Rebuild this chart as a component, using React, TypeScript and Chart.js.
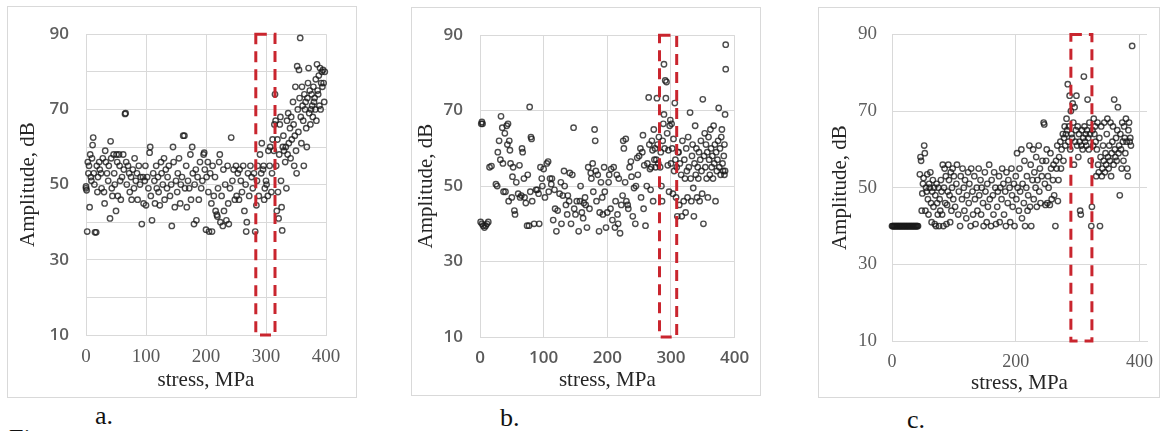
import { useEffect, useRef } from 'react';
import { Chart, registerables } from 'chart.js';

Chart.register(...registerables);

// ---------- data ----------
const yTickLabels = [10, 30, 50, 70, 90];
const yGridA = [10, 20, 30, 40, 50, 60, 70, 80, 90];
const xTicksAB = [0, 100, 200, 300, 400];
const xTicksC = [0, 200, 400];
const boxAmp = [10, 90];
const boxStressA = [283, 315];
const boxStressB = [282, 309];
const boxStressC = [289, 323];

const pointsA: [number, number][] = [
  [0, 49], [0, 49.5], [1, 48.5], [2, 37.5], [3, 56], [4, 53], [5, 55], [6, 44], [7, 58], [8, 52], [9, 51], [10, 57], [11, 60.5], [12, 62.5], [13, 53], [14, 50], [15, 37.3], [17, 37.3], [18, 55], [19, 48],
  [20, 52], [22, 56], [23, 54], [25, 53], [26, 49], [28, 57], [30, 48], [31, 45], [32, 59], [33, 56], [35, 53], [37, 51], [38, 55], [40, 41], [41, 61.5], [42, 57], [43, 49], [44, 47], [46, 58], [47, 53], [48, 50], [50, 43], [51, 58], [52, 56], [53, 47], [55, 58], [56, 55], [57, 51], [58, 46], [60, 52],
  [62, 58], [63, 54], [65, 68.8], [66, 69], [67, 56], [68, 50], [70, 55], [72, 53], [73, 48], [75, 52], [76, 46], [78, 54], [80, 49], [81, 57], [83, 51], [85, 53], [86, 46], [88, 55], [90, 50], [91, 52], [93, 39.5], [95, 52], [96, 45], [98, 51], [99, 55], [100, 44.5],
  [102, 52], [104, 49], [106, 58.5], [107, 60], [108, 47], [110, 40.5], [112, 53], [114, 51], [115, 45], [117, 55], [118, 49], [120, 52], [121, 48], [123, 44.5], [125, 56], [126, 53], [128, 50], [130, 57], [131, 46], [133, 54], [135, 49], [136, 52], [138, 55], [140, 47], [142, 50], [143, 39], [145, 60], [146, 56], [148, 44], [150, 51],
  [152, 48], [153, 53], [155, 57], [157, 45], [158, 50], [160, 52], [162, 63], [164, 63], [165, 49], [167, 55], [168, 44], [170, 51], [172, 49], [174, 58], [175, 46], [177, 60], [178, 53], [180, 39.5], [181, 50], [183, 54], [184, 40.5], [186, 52], [188, 46], [190, 56], [192, 49], [194, 51], [196, 58], [197, 58.5], [198, 54], [200, 38],
  [201, 52], [203, 56], [204, 48], [205, 37.5], [207, 53], [209, 45], [210, 37.5], [211, 55], [213, 47], [215, 52], [216, 43], [218, 42], [219, 41.5], [220, 49], [222, 56], [223, 58], [224, 40], [226, 47], [228, 39], [229, 54], [230, 43], [232, 50], [234, 40.5], [236, 55], [237, 45], [238, 39.5], [240, 49], [242, 62.5], [244, 51], [246, 54], [248, 46],
  [250, 55], [251, 47], [253, 53], [255, 46], [256, 54], [258, 51], [260, 48], [262, 55], [264, 43], [266, 50], [267, 37.5], [268, 40], [270, 53], [272, 47], [274, 55], [276, 52], [278, 49], [280, 53], [282, 37.5], [284, 44.5], [285, 51],
  [286, 55], [288, 47], [290, 58], [292, 53], [293, 61], [295, 54], [296, 55], [297, 46], [298, 49], [300, 51], [301, 50], [303, 47], [304, 59], [306, 55], [307, 60], [309, 48], [310, 53], [311, 62], [313, 59], [314, 66], [315, 74], [316, 67], [317, 55], [318, 43], [319, 62], [320, 48], [321, 41], [322, 58], [323, 66], [324, 68], [325, 51], [326, 44], [327, 37.8], [328, 60], [329, 63],
  [330, 59], [332, 56], [333, 60], [334, 49], [335, 67], [336, 58], [337, 69], [338, 61], [340, 65], [341, 57], [342, 68], [343, 62], [345, 72], [346, 66], [347, 55], [348, 63], [349, 76], [350, 59], [351, 53], [352, 81.5], [353, 70], [354, 64], [355, 80.5], [356, 73], [357, 89], [358, 68], [359, 61], [360, 76], [361, 71], [362, 67], [363, 55], [364, 74], [365, 70], [366, 72], [367, 65], [368, 60], [369, 73], [370, 77], [371, 81], [372, 69], [373, 75], [374, 66], [375, 70], [376, 74], [377, 71], [378, 68], [379, 76], [380, 72], [381, 73], [382, 70], [383, 78], [384, 67], [385, 82], [386, 75], [387, 74], [388, 79], [389, 71], [390, 81], [391, 70], [392, 77], [393, 80], [394, 76], [395, 80.5], [396, 77], [397, 72], [398, 80],
];

const pointsB: [number, number][] = [
  [2, 66.5], [3, 67], [4, 66.5], [1, 40.5], [3, 40], [5, 39.5], [7, 39], [9, 39.5], [11, 40], [13, 40.5], [15, 55], [18, 55.3], [25, 50.5], [27, 50], [28, 59], [30, 62], [32, 57], [33, 68.5], [35, 65.5], [36, 56], [37, 48.5], [39, 64], [40, 48.5], [42, 66], [43, 61], [44, 66.5], [45, 46], [46, 62], [47, 59.5], [48, 56], [50, 47], [51, 52.5], [52, 55], [54, 43.5], [55, 42.5], [57, 51], [60, 48], [62, 55.5], [63, 47], [65, 47.5], [66, 60], [67, 59], [69, 52], [70, 47], [72, 45.5], [74, 39.5], [75, 53], [77, 39.5], [78, 71], [79, 48.5], [80, 63], [81, 62.5], [82, 46], [85, 40], [88, 49], [90, 49], [92, 48], [93, 40], [95, 55], [97, 52], [98, 50], [100, 54.5],
  [102, 47], [105, 56], [107, 56.5], [108, 48.5], [110, 52], [112, 50.5], [113, 52], [115, 41], [117, 49], [118, 44], [120, 38], [122, 43.5], [125, 48], [127, 51], [128, 40], [130, 47.5], [132, 54], [133, 50], [135, 45], [137, 42.5], [138, 47.5], [140, 46], [141, 53.5], [143, 40], [145, 53], [147, 65.5], [148, 44], [150, 42.5], [152, 46], [155, 38], [157, 46], [158, 50], [160, 43], [162, 41.5], [163, 45.5], [165, 47], [166, 45], [168, 39], [170, 55], [172, 44], [174, 53.5], [175, 52], [177, 56], [178, 48.5], [180, 65], [181, 62], [182, 54], [183, 46], [185, 53], [187, 38], [188, 43], [190, 51], [192, 47], [193, 42.5], [195, 55], [196, 48.5], [198, 39], [200, 43],
  [202, 51], [203, 53], [205, 44], [206, 54.5], [208, 41], [210, 55], [212, 39], [213, 46], [215, 53], [216, 42.5], [217, 40], [218, 52], [220, 37.5], [222, 45], [224, 47.5], [225, 62], [226, 60], [228, 51], [229, 62.5], [230, 46], [232, 45], [233, 44], [235, 55], [237, 56.5], [238, 52.5], [240, 42], [242, 49.5], [244, 40], [245, 50], [247, 57.5], [248, 53], [250, 58], [252, 60], [253, 47], [255, 59], [256, 63.5], [257, 44], [258, 55.5], [260, 39.5], [262, 50], [263, 56], [265, 73.5], [266, 61], [267, 54.5], [268, 49], [269, 55], [270, 62], [271, 59.5], [272, 46],
  [273, 65], [274, 57], [275, 60], [276, 55], [277, 57], [278, 73.3], [279, 61], [280, 56], [281, 63], [283, 55], [284, 59], [285, 50], [286, 46], [287, 62], [288, 66.5], [289, 82.3], [289, 69], [290, 60], [291, 78], [292, 73.3], [293, 77.6], [294, 64], [295, 55.5], [296, 59.5], [297, 48.5], [298, 66], [299, 67.5], [300, 56], [301, 66.5], [302, 60], [303, 48], [304, 62.5], [305, 54], [306, 72], [307, 57], [308, 47], [309, 55], [310, 42], [311, 59],
  [312, 59], [313, 45], [314, 56], [316, 53], [317, 42], [318, 62], [320, 46], [321, 57], [322, 52], [323, 43], [324, 60], [325, 54], [326, 47], [327, 63], [328, 55], [330, 69.5], [331, 52], [332, 46], [333, 58], [334, 61], [335, 49.5], [336, 42], [337, 56], [338, 66], [339, 53], [340, 60], [341, 47], [342, 55], [343, 52], [344, 59], [345, 46], [346, 57], [347, 62], [348, 54], [349, 48], [350, 73], [351, 40], [352, 58], [353, 64], [354, 55], [355, 61], [356, 52], [357, 59], [358, 47], [359, 63], [360, 57], [361, 53], [362, 65], [363, 60], [364, 55], [365, 58], [366, 52], [367, 66], [368, 56], [369, 61], [370, 46], [371, 59], [372, 54], [373, 57], [374, 62], [375, 70.7], [376, 55], [377, 60], [378, 53], [379, 63], [380, 65], [381, 56], [382, 54], [383, 58], [384, 61], [385, 69], [386, 87.5], [386, 81], [385, 54], [384, 53],
];

const pointsC: [number, number][] = [
  [0, 40], [1, 40], [2, 40], [3, 40], [4, 40], [5, 40], [6, 40], [7, 40], [8, 40], [9, 40], [10, 40], [11, 40], [12, 40], [13, 40], [14, 40], [15, 40], [16, 40], [17, 40], [18, 40], [19, 40], [20, 40], [21, 40], [22, 40], [23, 40], [24, 40], [25, 40], [26, 40], [27, 40], [28, 40], [29, 40], [30, 40], [31, 40], [32, 40], [33, 40], [34, 40], [35, 40], [36, 40], [37, 40], [38, 40], [39, 40], [40, 40], [41, 40], [42, 40],
  [45, 53.5], [46, 58], [47, 57], [48, 44], [49, 48.5], [50, 51], [51, 52.5], [52, 61], [53, 59], [54, 44], [55, 50], [56, 49], [57, 53.5], [58, 47], [59, 43], [60, 51], [61, 50], [62, 54], [63, 46], [64, 41], [65, 49], [66, 52], [67, 45], [68, 50], [69, 40.5], [70, 48], [71, 40], [72, 51], [73, 46], [74, 43], [75, 50], [76, 40], [77, 47], [78, 44], [79, 52], [80, 49], [81, 43], [82, 56], [83, 40], [84, 50], [85, 55], [86, 46], [87, 53], [88, 40.5], [89, 45.5], [90, 49], [91, 56], [92, 52], [93, 48], [94, 41], [95, 54], [96, 44], [97, 50], [98, 55], [99, 47], [100, 53],
  [102, 45], [104, 51], [105, 56], [107, 43], [108, 49], [110, 40], [111, 53], [113, 47], [114, 55], [116, 50], [117, 44], [118, 52], [120, 42], [121, 48], [123, 54], [124, 46], [125, 51], [127, 40], [128, 55], [130, 49], [131, 43], [133, 53], [134, 47], [135, 40.5], [137, 50], [138, 44], [140, 55], [141, 48], [143, 52], [144, 43], [145, 50], [147, 46], [148, 40], [150, 54], [151, 49], [153, 41], [154, 51], [155, 45], [157, 56], [158, 47], [160, 40], [161, 52], [163, 48], [164, 43], [165, 54], [167, 50], [168, 40.5], [170, 45], [171, 49], [173, 53], [174, 41], [175, 50], [177, 47], [178, 55], [180, 51], [181, 43], [183, 49], [184, 40], [185, 54], [187, 46], [188, 52], [190, 50], [191, 41], [193, 55], [194, 48], [195, 45], [197, 51], [198, 40], [200, 53],
  [201, 47], [202, 59], [203, 50], [205, 44], [206, 55], [207, 49], [209, 60], [210, 42], [211, 51], [213, 46], [214, 57], [215, 40], [217, 50], [218, 53], [219, 44], [220, 48], [222, 61], [223, 45], [224, 56], [225, 40], [227, 52], [228, 60], [229, 47], [230, 54], [232, 50], [233, 58], [234, 45], [235, 52], [237, 61], [238, 49], [239, 55], [240, 46], [242, 53], [243, 57], [245, 67], [246, 66.5], [247, 51], [248, 45.5], [249, 57], [250, 60], [251, 46], [252, 53], [253, 50], [255, 45.5], [256, 59], [257, 55], [258, 47], [260, 52], [261, 56], [262, 48], [264, 40], [265, 57], [266, 55], [267, 61], [268, 46.5], [269, 52], [270, 58], [272, 62], [273, 55], [274, 60], [276, 64], [277, 57], [278, 63], [279, 66], [280, 61],
  [281, 64], [282, 68], [283, 65], [284, 77], [285, 62], [286, 66], [287, 74], [288, 60], [289, 70], [290, 64], [291, 63], [292, 72], [293, 67], [294, 56], [295, 71], [296, 62], [297, 65], [298, 74], [299, 61], [300, 66], [301, 58], [302, 64], [303, 62], [304, 44], [305, 43], [306, 61], [307, 65], [308, 60], [309, 63], [310, 79], [311, 66], [312, 62], [313, 64], [314, 61], [315, 65], [316, 73], [317, 63], [318, 60], [319, 67], [320, 64], [321, 57], [322, 40], [323, 45], [324, 65], [325, 61], [326, 68], [327, 64], [328, 66], [329, 62], [330, 53],
  [331, 60], [332, 67], [333, 56], [334, 54], [335, 63], [336, 40], [337, 58], [338, 66], [339, 53], [340, 55], [341, 61], [342, 57], [343, 67], [344, 54], [345, 59], [346, 56], [347, 64], [348, 68], [349, 58], [350, 55], [351, 61], [352, 57], [353, 67], [354, 53], [355, 59], [356, 62], [357, 66], [358, 56], [359, 73], [360, 60], [361, 58], [362, 63], [363, 57], [364, 65], [365, 71], [366, 59], [367, 61], [368, 48], [369, 64], [370, 60], [371, 55], [372, 67], [373, 62], [374, 57], [375, 66], [376, 63], [377, 59], [378, 68], [379, 62], [380, 55], [381, 53], [382, 65], [383, 67], [384, 62], [385, 63], [386, 61], [388, 87],
];

// ---------- styling / layout ----------
const SERIF = '"Liberation Serif", "Times New Roman", serif';
const SANS = '"Open Sans", "Liberation Sans", sans-serif';
const GRID = '#d9d9d9';
const POINT = 'rgba(25,25,25,0.78)';

type Font = { family: string; size: number; weight?: string | number };

type PanelCfg = {
  points: [number, number][];
  canvas: { left: number; top: number; width: number; height: number };
  frame: { left: number; top: number; width: number; height: number };
  plot: { left: number; top: number; right: number; bottom: number };
  xMax: number;
  xTicks: number[];
  yGrid: number[];
  boxStress: number[];
  yTickFont: Font;
  xTickFont: Font;
  yTickPad: number;
  xTickPad: number;
  yTitleCenter: number;
  xTitleCenter: number;
  label: string;
  labelPos: { left: number; top: number };
};

const redBoxPlugin = {
  id: 'redBox',
  afterDatasetsDraw(chart: any, _args: any, opts: any) {
    const { ctx, scales } = chart;
    const x = scales.x;
    const y = scales.y;
    const x0 = x.getPixelForValue(opts.stress[0]);
    const x1 = x.getPixelForValue(opts.stress[1]);
    const y0 = y.getPixelForValue(opts.amp[0]);
    const y1 = y.getPixelForValue(opts.amp[1]);
    ctx.save();
    ctx.strokeStyle = '#c9252e';
    ctx.lineWidth = 3;
    ctx.setLineDash([11, 7]);
    ctx.strokeRect(x0, y1, x1 - x0, y0 - y1);
    ctx.restore();
  },
};

function Panel({ cfg }: { cfg: PanelCfg }) {
  const ref = useRef<HTMLCanvasElement | null>(null);
  useEffect(() => {
    if (!ref.current) return;
    const { canvas, plot } = cfg;
    const yW = plot.left - canvas.left;
    const xH = canvas.top + canvas.height - plot.bottom;
    const titleLH = 21 * 1.2;
    const yTitlePad = cfg.yTitleCenter - canvas.left - titleLH / 2;
    const xTitlePad = canvas.top + canvas.height - cfg.xTitleCenter - titleLH / 2;
    const chart = new Chart(ref.current, {
      type: 'scatter',
      data: {
        datasets: [
          {
            data: cfg.points.map(([x, y]) => ({ x, y })),
            pointRadius: 2.7,
            pointHoverRadius: 2.7,
            pointBorderWidth: 1.4,
            borderColor: POINT,
            backgroundColor: 'rgba(0,0,0,0)',
            pointBackgroundColor: 'rgba(0,0,0,0)',
            pointBorderColor: POINT,
            clip: false as any,
          },
        ],
      },
      options: {
        animation: false,
        responsive: false,
        events: [],
        layout: {
          padding: {
            left: 0,
            top: plot.top - canvas.top,
            right: canvas.left + canvas.width - plot.right,
            bottom: 0,
          },
        },
        plugins: {
          legend: { display: false },
          tooltip: { enabled: false },
          redBox: { stress: cfg.boxStress, amp: boxAmp },
        } as any,
        scales: {
          x: {
            type: 'linear',
            min: 0,
            max: cfg.xMax,
            afterBuildTicks: (s: any) => {
              s.ticks = cfg.xTicks.map((v) => ({ value: v }));
            },
            afterFit: (s: any) => {
              s.height = xH;
            },
            grid: { color: GRID, drawTicks: false, lineWidth: 1 },
            border: { color: GRID, width: 1 },
            ticks: {
              padding: cfg.xTickPad,
              font: cfg.xTickFont as any,
              color: '#595959',
              maxRotation: 0,
              autoSkip: false,
            },
            title: {
              display: true,
              text: 'stress, MPa',
              font: { family: SERIF, size: 21 },
              color: '#262626',
              padding: { top: 0, bottom: xTitlePad },
            },
          },
          y: {
            type: 'linear',
            min: 10,
            max: 90,
            afterBuildTicks: (s: any) => {
              s.ticks = cfg.yGrid.map((v) => ({ value: v }));
            },
            afterFit: (s: any) => {
              s.width = yW;
            },
            grid: { color: GRID, drawTicks: false, lineWidth: 1 },
            border: { color: GRID, width: 1 },
            ticks: {
              padding: cfg.yTickPad,
              font: cfg.yTickFont as any,
              color: '#5f5f5f',
              callback: (v: any) => (yTickLabels.includes(Number(v)) ? String(v) : ''),
            },
            title: {
              display: true,
              text: 'Amplitude, dB',
              font: { family: SERIF, size: 21 },
              color: '#262626',
              padding: { top: yTitlePad, bottom: 0 },
            },
          },
        },
      },
      plugins: [redBoxPlugin as any],
    });
    return () => chart.destroy();
  }, [cfg]);

  const { canvas, frame } = cfg;
  return (
    <>
      <div
        style={{
          position: 'absolute',
          left: frame.left,
          top: frame.top,
          width: frame.width,
          height: frame.height,
          border: '1px solid #d9d9d9',
          boxSizing: 'border-box',
        }}
      />
      <canvas
        ref={ref}
        width={canvas.width}
        height={canvas.height}
        style={{
          position: 'absolute',
          left: canvas.left,
          top: canvas.top,
          width: canvas.width,
          height: canvas.height,
        }}
      />
      <div
        style={{
          position: 'absolute',
          left: cfg.labelPos.left,
          top: cfg.labelPos.top,
          fontFamily: SERIF,
          fontSize: 26,
          lineHeight: '26px',
          color: '#111',
          whiteSpace: 'nowrap',
        }}
      >
        {cfg.label}
      </div>
    </>
  );
}

const panels: PanelCfg[] = [
  {
    points: pointsA,
    canvas: { left: 8, top: 7, width: 348, height: 390 },
    frame: { left: 7, top: 6, width: 350, height: 392 },
    plot: { left: 86, top: 27, right: 326, bottom: 335 },
    xMax: 400,
    xTicks: xTicksAB,
    yGrid: yGridA,
    boxStress: boxStressA,
    yTickFont: { family: SANS, size: 17, weight: 600 },
    xTickFont: { family: SERIF, size: 19 },
    yTickPad: 17,
    xTickPad: 10.6,
    yTitleCenter: 28,
    xTitleCenter: 380,
    label: 'a.',
    labelPos: { left: 95, top: 403 },
  },
  {
    points: pointsB,
    canvas: { left: 412, top: 8, width: 348, height: 387 },
    frame: { left: 411, top: 7, width: 350, height: 389 },
    plot: { left: 480, top: 27, right: 743, bottom: 337 },
    xMax: 400,
    xTicks: xTicksAB,
    yGrid: yTickLabels,
    boxStress: boxStressB,
    yTickFont: { family: SANS, size: 17, weight: 600 },
    xTickFont: { family: SANS, size: 17, weight: 600 },
    yTickPad: 17,
    xTickPad: 10.8,
    yTitleCenter: 426,
    xTitleCenter: 380,
    label: 'b.',
    labelPos: { left: 500, top: 405 },
  },
  {
    points: pointsC,
    canvas: { left: 819, top: 8, width: 350, height: 389 },
    frame: { left: 818, top: 7, width: 342, height: 391 },
    plot: { left: 892, top: 27, right: 1147, bottom: 341 },
    xMax: 412,
    xTicks: xTicksC,
    yGrid: yTickLabels,
    boxStress: boxStressC,
    yTickFont: { family: SERIF, size: 19 },
    xTickFont: { family: SERIF, size: 18 },
    yTickPad: 15,
    xTickPad: 10.2,
    yTitleCenter: 840,
    xTitleCenter: 383,
    label: 'c.',
    labelPos: { left: 907, top: 407 },
  },
];

export default function App() {
  return (
    <div
      style={{
        position: 'absolute',
        left: 0,
        top: 0,
        width: 1169,
        height: 431,
        overflow: 'hidden',
        background: '#fff',
      }}
    >
      {panels.map((p) => (
        <Panel key={p.label} cfg={p} />
      ))}
      <div
        style={{
          position: 'absolute',
          left: 9,
          top: 426,
          fontFamily: SERIF,
          fontSize: 26,
          lineHeight: '26px',
          color: '#111',
        }}
      >
        Fig.
      </div>
    </div>
  );
}
